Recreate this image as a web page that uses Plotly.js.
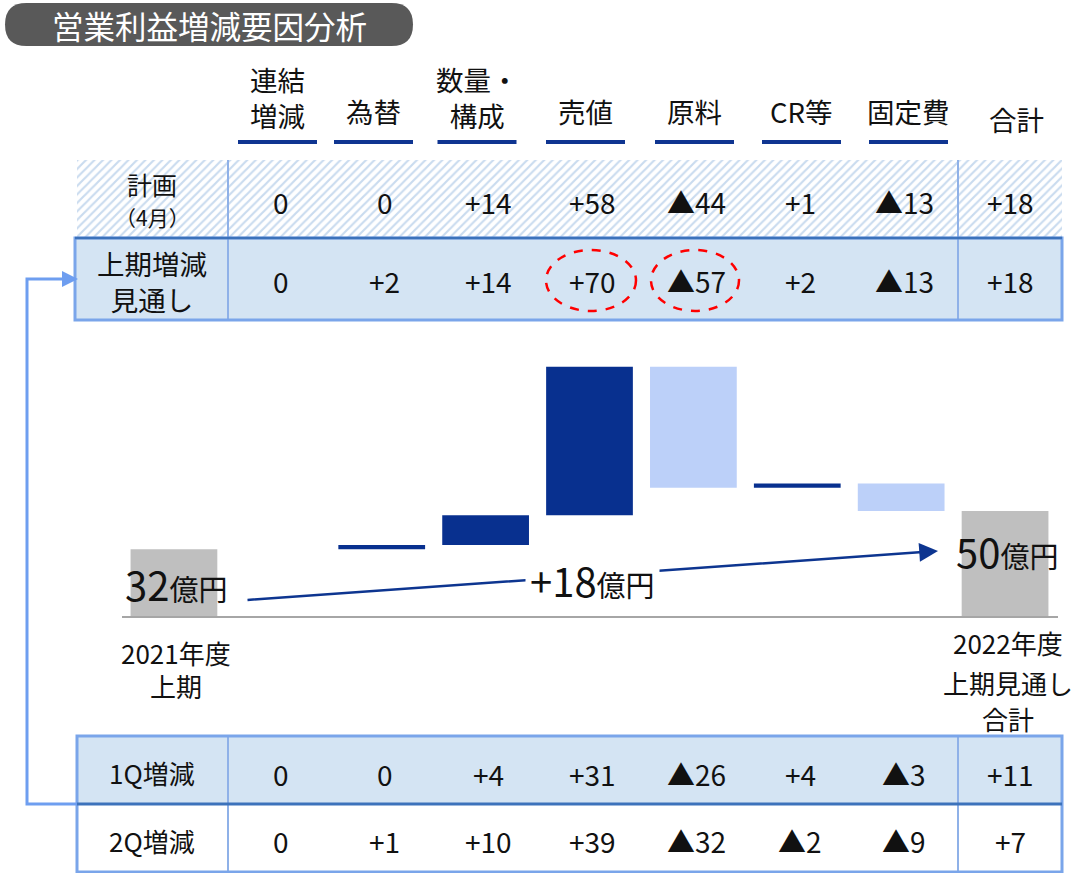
<!DOCTYPE html>
<html><head><meta charset="utf-8">
<script src="https://cdn.plot.ly/plotly-3.0.1.min.js"></script>
<style>html,body{margin:0;padding:0;background:#fff}#chart{width:1083px;height:873px}</style>
</head><body><div id="chart"></div>
<script>
// ---------------- data ----------------
const chartTitle = '営業利益増減要因分析';
const headerLabels = ['連結<br>増減', '為替', '数量・<br>構成', '売値', '原料', 'CR等', '固定費', '合計'];
const rowLabels = ['計画<br>（4月）', '上期増減<br>見通し', '1Q増減', '2Q増減'];
const planValues    = [0, 0, 14, 58, -44, 1, -13, 18];
const outlookValues = [0, 2, 14, 70, -57, 2, -13, 18];
const q1Values      = [0, 0, 4, 31, -26, 4, -3, 11];
const q2Values      = [0, 1, 10, 39, -32, -2, -9, 7];
const barCategories = ['2021年度<br>上期', '連結増減', '為替', '数量・構成', '売値', '原料', 'CR等', '固定費', '2022年度<br>上期見通し<br>合計'];
const startProfit = 32;
const endProfit = 50;
const unitLabel = '億円';

// ---------------- helpers / geometry ----------------
const W = 1083, H = 873;
const FONT = '"Liberation Sans Narrow", "Noto Sans CJK JP", sans-serif';
const CJK = '"Noto Sans CJK JP", sans-serif';
const fmt = v => v > 0 ? '+' + v : (v < 0 ? '▲' + (-v) : '0');
const barCenter0 = 174, barStep = 103.875;
const cellX = i => i < 7 ? barCenter0 + (i + 1) * barStep + 3 : 1010;
const headerX = [277.5, 373.5, 477, 585.5, 694.5, 801.5, 908.5, 1016];
const DARK = '#08308f', LIGHT = '#bcd0f9', GRAY = '#bfbfbf';
const TBLFILL = '#d4e4f3', BORDER = '#7aa5ea', DIV = '#3c72bb', CONN = '#6e9ef0';

const ann = [];
const px = (x, y, text, size, opts) => ann.push(Object.assign({
  xref: 'x2', yref: 'y2', x: x, y: y, text: text, showarrow: false,
  xanchor: 'center', yanchor: 'middle', font: {family: FONT, size: size, color: '#111'}
}, opts || {}));

// title
px(209, 25, chartTitle, 31.5, {font: {family: CJK, size: 31.5, color: '#ffffff'}});

// headers
headerLabels.forEach((lab, i) => {
  const two = lab.indexOf('<br>') >= 0;
  px(headerX[i], two ? 97 : (i === 7 ? 119 : 111), lab, 27.5);
});

// row labels
px(152, 184, rowLabels[0].split('<br>')[0], 25);
px(152, 217, rowLabels[0].split('<br>')[1], 21);
px(152, 281, rowLabels[1], 27.5);
px(152, 772, rowLabels[2], 26);
px(152, 840, rowLabels[3], 26);

// value rows
const rowsY = [202, 281, 774, 841];
[planValues, outlookValues, q1Values, q2Values].forEach((arr, r) => {
  arr.forEach((v, i) => px(cellX(i), rowsY[r], fmt(v), 28));
});

// bottom category labels (first & last bar)
const lab0 = barCategories[0].split('<br>');
const labN = barCategories[8].split('<br>');
const y0lines = [652, 685], yNlines = [642, 682, 718];
lab0.forEach((ln, k) => ann.push({xref: 'x', yref: 'y2', x: 0, xshift: 2, y: y0lines[k], text: ln, showarrow: false,
  xanchor: 'center', yanchor: 'middle', font: {family: FONT, size: 26, color: '#111'}}));
labN.forEach((ln, k) => ann.push({xref: 'x', yref: 'y2', x: 8, xshift: 3, y: yNlines[k], text: ln, showarrow: false,
  xanchor: 'center', yanchor: 'middle', font: {family: FONT, size: 26, color: '#111'}}));

// total-change arrow
ann.push({xref: 'x2', yref: 'y2', axref: 'x2', ayref: 'y2', x: 938, y: 551, ax: 246, ay: 600,
  text: '', showarrow: true, arrowhead: 2, arrowsize: 1.5, arrowwidth: 2.5, arrowcolor: '#0d3590', standoff: 0});

const big = (n) => '<span style="font-size:40px">' + n + '</span>' + unitLabel;
px(176, 584, big(startProfit), 29);
px(592, 580, big(fmt(endProfit - startProfit)), 29, {bgcolor: '#ffffff', borderpad: 4});
px(1007, 551, big(endProfit), 29);

// ---------------- shapes ----------------
const shapes = [];
const S = (o) => shapes.push(Object.assign({xref: 'x2', yref: 'y2'}, o));
// title pill
S({type: 'path', path: 'M 26.5 3 L 391.5 3 Q 413 3 413 24.5 Q 413 46 391.5 46 L 26.5 46 Q 5 46 5 24.5 Q 5 3 26.5 3 Z',
   fillcolor: '#595959', line: {width: 0}, layer: 'below'});
// header underlines
headerX.slice(0, 7).forEach(x => S({type: 'line', x0: x - 39.5, x1: x + 39.5, y0: 142, y1: 142, line: {color: '#0f3591', width: 4}}));
// top table
S({type: 'rect', x0: 75, x1: 1062, y0: 238, y1: 320, fillcolor: TBLFILL, line: {width: 0}, layer: 'below'});
[228, 958].forEach(x => S({type: 'line', x0: x, x1: x, y0: 160, y1: 320, line: {color: '#8fb1e8', width: 2}}));
S({type: 'rect', x0: 75, x1: 1062, y0: 238, y1: 320, line: {color: BORDER, width: 3}});
S({type: 'line', x0: 75, x1: 1062, y0: 238, y1: 238, line: {color: DIV, width: 2.5}});
// bottom table
S({type: 'rect', x0: 77, x1: 1062, y0: 736, y1: 804, fillcolor: TBLFILL, line: {width: 0}, layer: 'below'});
[228, 958].forEach(x => S({type: 'line', x0: x, x1: x, y0: 736, y1: 872, line: {color: '#8fb1e8', width: 2}}));
S({type: 'rect', x0: 77, x1: 1062, y0: 736, y1: 872, line: {color: BORDER, width: 3}});
S({type: 'line', x0: 77, x1: 1062, y0: 804, y1: 804, line: {color: DIV, width: 3}});
// left connector
S({type: 'path', path: 'M 77 804 L 27 804 L 27 279 L 64 279', line: {color: CONN, width: 3}});
S({type: 'path', path: 'M 62 271 L 78 279 L 62 287 Z', fillcolor: CONN, line: {width: 0}});
// red dashed ellipses
S({type: 'circle', x0: 546, x1: 636, y0: 250, y1: 311, line: {color: '#ff0000', width: 2.5, dash: 'dash'}});
S({type: 'circle', x0: 651, x1: 739, y0: 250, y1: 311, line: {color: '#ff0000', width: 2.5, dash: 'dash'}});
// baseline
S({type: 'line', x0: 122, x1: 1058, y0: 617, y1: 617, line: {color: '#a6a6a6', width: 2}});

// ---------------- traces ----------------
const hatch = {
  type: 'scatter', xaxis: 'x2', yaxis: 'y2', mode: 'lines',
  x: [77, 1062, 1062, 77, 77], y: [160, 160, 238, 238, 160],
  fill: 'toself', fillcolor: '#ffffff', line: {width: 0},
  fillpattern: {shape: '/', fgcolor: '#c9dbef', bgcolor: '#ffffff', size: 6, solidity: 0.35},
  hoverinfo: 'skip', showlegend: false
};

const wfY = [startProfit].concat(outlookValues.slice(0, 7)).concat([endProfit]);
const wfMeasure = ['absolute'].concat(outlookValues.slice(0, 7).map(() => 'relative')).concat(['total']);
const wf = {
  type: 'waterfall', xaxis: 'x', yaxis: 'y',
  x: barCategories.map((c, i) => i), y: wfY, measure: wfMeasure,
  width: 0.835, textinfo: 'none', text: barCategories,
  connector: {visible: false},
  increasing: {marker: {color: DARK}},
  decreasing: {marker: {color: LIGHT}},
  totals: {marker: {color: GRAY}},
  showlegend: false, hoverinfo: 'skip'
};

const layout = {
  width: W, height: H, margin: {l: 0, r: 0, t: 0, b: 0},
  paper_bgcolor: '#ffffff', plot_bgcolor: 'rgba(0,0,0,0)', showlegend: false,
  xaxis: {domain: [122 / W, 1057 / W], range: [-0.5, 8.5], visible: false, fixedrange: true, anchor: 'y'},
  yaxis: {domain: [(H - 617) / H, (H - 340) / H], range: [0, 277 / 2.12], visible: false, fixedrange: true, anchor: 'x'},
  xaxis2: {domain: [0, 1], range: [0, W], visible: false, anchor: 'y2', fixedrange: true},
  yaxis2: {domain: [0, 1], range: [H, 0], visible: false, anchor: 'x2', fixedrange: true},
  shapes: shapes, annotations: ann
};

Plotly.newPlot('chart', [hatch, wf], layout, {staticPlot: true, displayModeBar: false});
</script></body></html>
